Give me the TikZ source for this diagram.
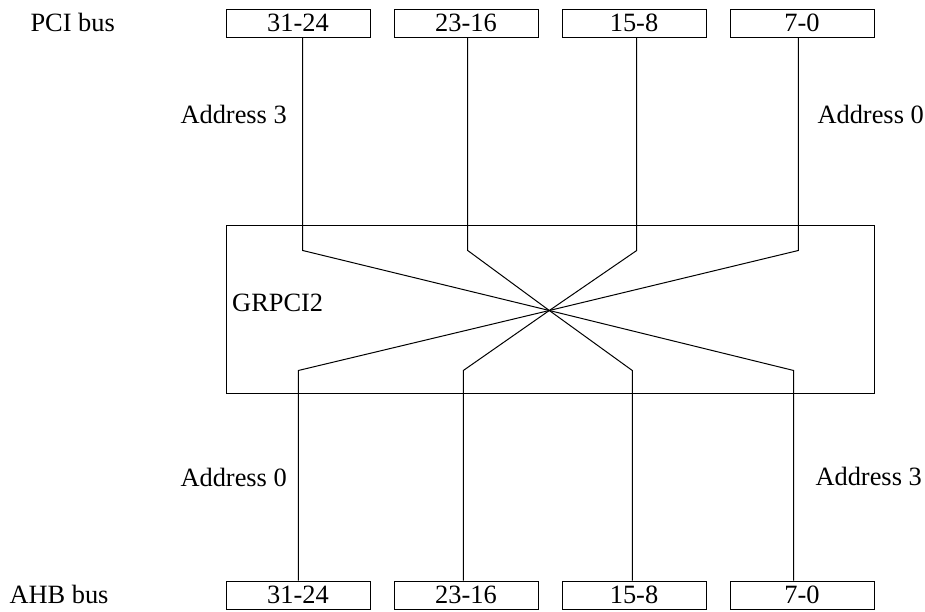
\documentclass[tikz,border=0pt]{standalone}
\usepackage{fontspec}
\setmainfont{Liberation Serif}

\begin{document}
\begin{tikzpicture}[
  x=1pt, y=-1pt,
  font=\fontsize{26.4}{30}\selectfont,
  line width=1pt,
  lane/.style={draw, line width=1pt, minimum width=144pt, minimum height=28pt, inner sep=0pt},
  bus label/.style={anchor=base west, inner sep=0pt}
]
\useasboundingbox (0,0) rectangle (925,612);
\def\lanesep{168}
% byte lanes on both buses
\foreach \i/\bits in {1/31-24,2/23-16,3/15-8,4/7-0} {
  \node[lane] (pci\i) at (130+\i*\lanesep, 23.3) {\bits};
  \node[lane] (ahb\i) at (130+\i*\lanesep, 595) {\bits};
}
\node[draw, minimum width=648pt, minimum height=167.6pt, inner sep=0pt] (chip) at (550,309.5) {};
\coordinate (swap) at (549.3,310.5);
% byte swapping
\foreach \i/\xt/\xb in {1/302.7/298.3, 2/467.7/463.3, 3/636.7/632.3, 4/798.3/793.7} {
  \draw (\xt,0 |- pci\i.south) -- (\xt,250.5) -- (swap);
  \draw (swap) -- (\xb,370.5) -- (\xb,0 |- ahb\i.north);
}
\node[bus label] (pcilbl) at (30,31.7) {PCI bus};
\node[bus label] (ahblbl) at (9,603.3) {AHB bus};
\node[bus label] (chiplbl) at (231.7,311) {GRPCI2};
\node[bus label] (pciaddr3) at (180,123.3) {Address 3};
\node[bus label] (pciaddr0) at (817,123.3) {Address 0};
\node[bus label] (ahbaddr0) at (180,486) {Address 0};
\node[bus label] (ahbaddr3) at (815,485.5) {Address 3};
\end{tikzpicture}
\end{document}
